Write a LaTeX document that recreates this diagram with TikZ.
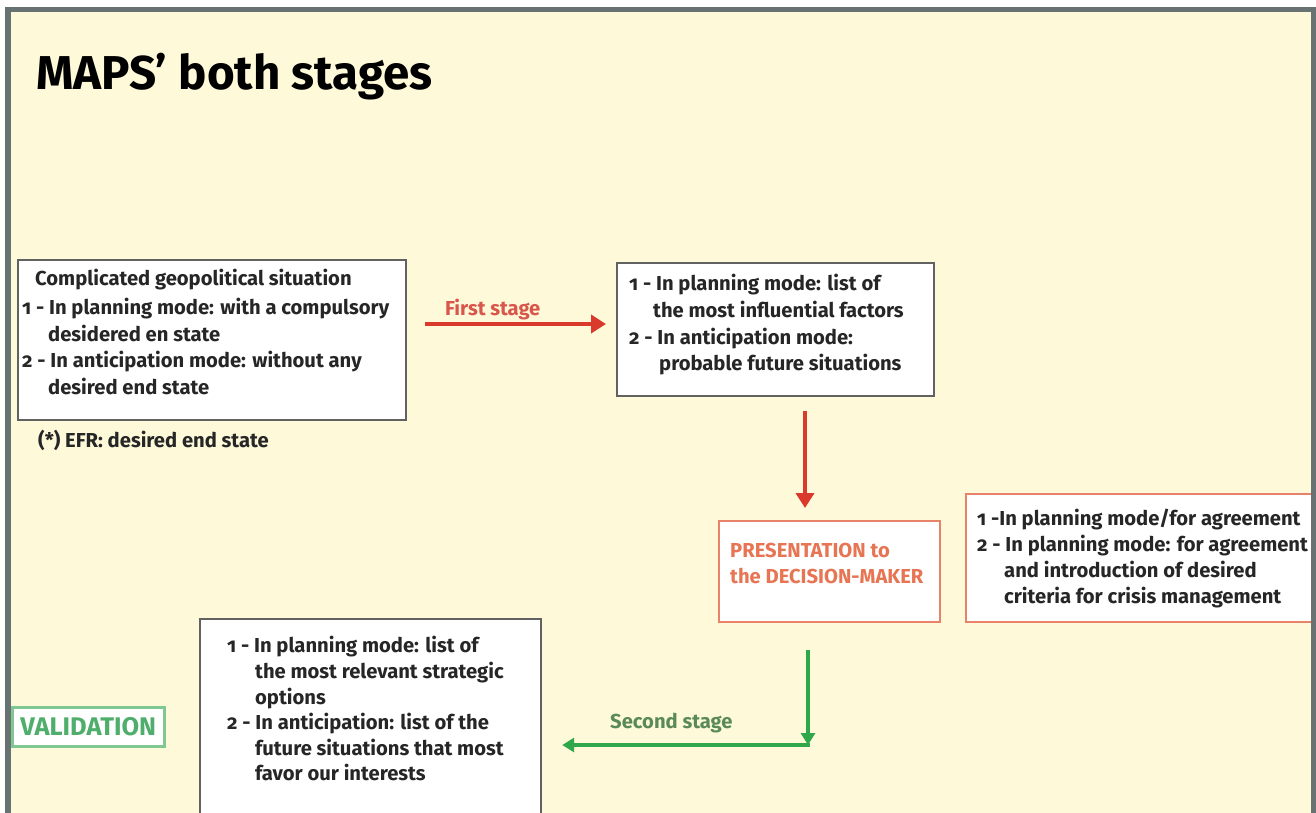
\documentclass[tikz,border=0pt]{standalone}
\usepackage{fontspec}
\setmainfont{Fira Sans}[Numbers=OldStyle]
\usetikzlibrary{arrows.meta}
\definecolor{bgc}{HTML}{FDF9D9}
\definecolor{framec}{HTML}{687272}
\definecolor{boxgray}{HTML}{626262}
\definecolor{txtc}{HTML}{262626}
\definecolor{redc}{HTML}{D93A2B}
\definecolor{redlab}{HTML}{D9564A}
\definecolor{orangeb}{HTML}{E8836A}
\definecolor{orangetxt}{HTML}{E77452}
\definecolor{greenc}{HTML}{2EA84B}
\definecolor{greenlab}{HTML}{5A8A58}
\definecolor{valb}{HTML}{80C792}
\definecolor{valtxt}{HTML}{4FAE6B}
\tikzset{
  box/.style={draw=boxgray, line width=2.2pt, fill=white, inner sep=0pt, anchor=north west},
  obox/.style={box, draw=orangeb},
  vbox/.style={box, draw=valb, line width=2.5pt},
  txt/.style={inner sep=0pt, align=left, text=txtc, anchor=north west,
    font=\fontsize{20.2}{26.4}\selectfont\bfseries},
  lab/.style={inner sep=0pt, anchor=base west, font=\fontsize{20.2}{24}\selectfont\bfseries},
  rarrow/.style={draw=redc, line width=4.5pt, -{Triangle[length=15pt,width=18pt]}},
  garrow/.style={draw=greenc, line width=4pt, -{Triangle[length=12pt,width=14pt]}},
}
\begin{document}
\begin{tikzpicture}[x=1pt,y=-1pt]
\useasboundingbox (0,0) rectangle (1316,812);
\clip (0,0) rectangle (1316,812);
\fill[white] (0,0) rectangle (1316,812);
\fill[bgc] (8,9.5) rectangle (1313.5,830);

% title
\node[lab, font=\fontsize{47.5}{55}\selectfont\bfseries, text=black] (title) at (36,89) {MAPS’ both stages};

% box 1
\node[box, minimum width=388, minimum height=160] (b1) at (17,259) {};
\node[lab, text=txtc] (t1h) at (35,285) {Complicated geopolitical situation};
\node[txt] (t1) at (22,298.4) {1 - In planning mode: with a compulsory\\
\hspace*{26pt}desidered en state\\
2 - In anticipation mode: without any\\
\hspace*{26pt}desired end state};
\node[lab, text=txtc] (efr) at (38,447) {(*) EFR: desired end state};

% box 2
\node[box, minimum width=317, minimum height=133] (b2) at (616,262) {};
\node[txt, font=\fontsize{20.2}{26.6}\selectfont\bfseries] (t2) at (629,274.4) {1 - In planning mode: list of\\
\hspace*{24pt}the most influential factors\\
2 - In anticipation mode:\\
\hspace*{30pt}probable future situations};

% box 3
\node[obox, minimum width=221, minimum height=101] (b3) at (718,520) {};
\node[txt, text=orangetxt] (t3) at (730,543) {PRESENTATION to\\the DECISION-MAKER};

% box 4
\node[obox, minimum width=365, minimum height=128] (b4) at (965,493) {};
\node[txt, font=\fontsize{20.2}{26}\selectfont\bfseries] (t4) at (977,508.4) {1 -In planning mode/for agreement\\
2 - In planning mode: for agreement\\
\hspace*{27pt}and introduction of desired\\
\hspace*{27pt}criteria for crisis management};

% box 5
\node[box, minimum width=341, minimum height=212] (b5) at (199,618) {};
\node[txt, font=\fontsize{20.2}{25.6}\selectfont\bfseries] (t5) at (227,636.4) {1 - In planning mode: list of\\
\hspace*{28pt}the most relevant strategic\\
\hspace*{28pt}options\\
2 - In anticipation: list of the\\
\hspace*{28pt}future situations that most\\
\hspace*{28pt}favor our interests};

% validation
\node[vbox, minimum width=152, minimum height=39] (bv) at (11,706) {};
\node[inner sep=0pt, text=valtxt, font=\fontsize{25.5}{28}\selectfont\bfseries] (tv) at (bv.center) {VALIDATION};

% connectors
\coordinate (r1s) at (425,324);
\draw[rarrow, shorten >=10pt] (r1s) -- (b2.west |- r1s);
\node[lab, text=redlab] (l1) at (445,315) {First stage};

\coordinate (rx) at (805,450);
\draw[rarrow, shorten <=14pt, shorten >=12pt] (b2.south -| rx) -- (b3.north -| rx);

\coordinate (gc) at (808,745);
\draw[garrow, shorten <=27pt] (b3.south -| gc) -- (gc);
\draw[garrow, shorten >=20pt] ([xshift=2pt]gc) -- (b5.east |- gc);
\node[lab, text=greenlab] (l2) at (610,728) {Second stage};

% frame
\draw[framec, line width=5.5pt] (8,830) -- (8,9.5) -- (1313.5,9.5) -- (1313.5,830);
\end{tikzpicture}
\end{document}
